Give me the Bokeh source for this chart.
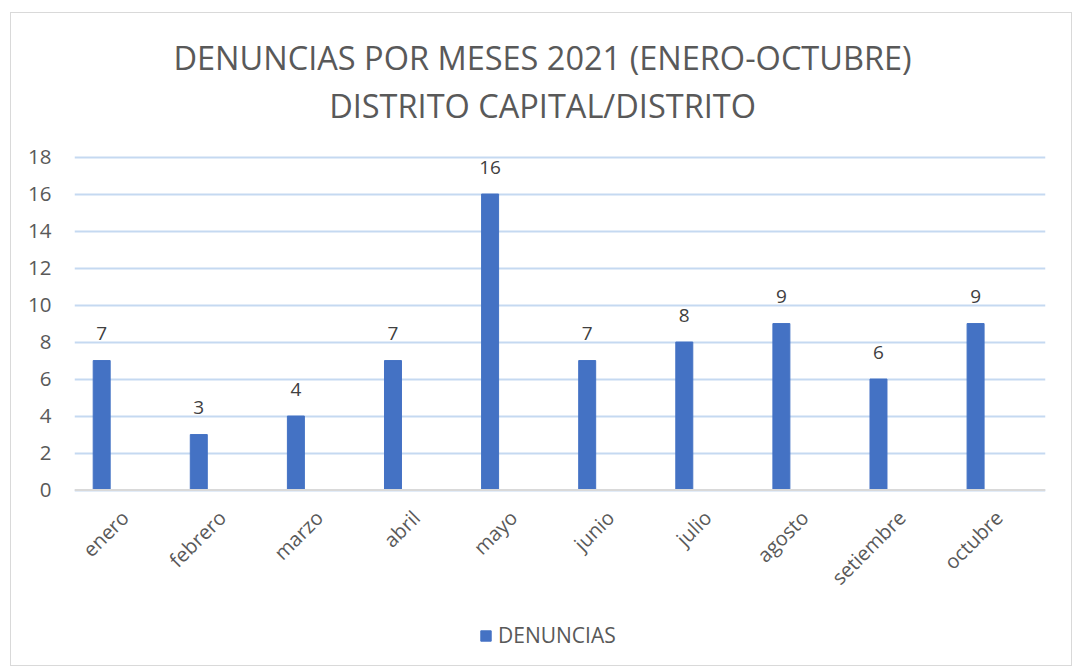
from bokeh.plotting import figure
from bokeh.models import (ColumnDataSource, FactorRange, Range1d, Legend, LegendItem,
                          FixedTicker, Span)
from bokeh.transform import dodge
from bokeh.core.properties import value
from bokeh.embed import file_html
from bokeh.resources import INLINE
from math import pi

meses = ["enero", "febrero", "marzo", "abril", "mayo", "junio", "julio",
         "agosto", "setiembre", "octubre"]
denuncias = [7, 3, 4, 7, 16, 7, 8, 9, 6, 9]
etiquetas = [str(v) for v in denuncias]
y_ticks = [0, 2, 4, 6, 8, 10, 12, 14, 16, 18]
titulo_1 = "DENUNCIAS POR MESES 2021 (ENERO-OCTUBRE)"
titulo_2 = "DISTRITO CAPITAL/DISTRITO"
serie = "DENUNCIAS"

FONT = "Open Sans"
GRAY = "#595959"

# layout (pixels)
W, H = 1062, 654
B_LEFT, B_RIGHT, B_TOP, B_BOTTOM = 63, 28, 15, 5
PX_PER_UNIT = 18.5
Y_TOP = 18.03 + (156 - 28) / PX_PER_UNIT          # frame top sits above the 18 line
Y_BOTTOM = Y_TOP - (H - B_TOP - B_BOTTOM) / PX_PER_UNIT

def y_at(page_px):
    return Y_TOP - (page_px - 28) / PX_PER_UNIT

src = ColumnDataSource(dict(mes=meses, val=denuncias, lbl=etiquetas))
tsrc = ColumnDataSource(dict(t=[titulo_1, titulo_2], x=["junio", "junio"],
                             y=[y_at(57), y_at(105)]))

p = figure(width=W, height=H, x_range=FactorRange(*meses, range_padding=0),
           y_range=Range1d(Y_BOTTOM, Y_TOP), output_backend="svg", toolbar_location=None,
           min_border_left=B_LEFT, min_border_right=B_RIGHT, min_border_top=B_TOP,
           min_border_bottom=B_BOTTOM)
p.styles = {"border": "1px solid #D9D9D9", "margin-left": "10px", "margin-top": "12px"}
p.outline_line_color = None
p.title = None

# chart title (two centred lines)
p.text(x="x", y="y", text="t", source=tsrc, text_align="center", text_baseline="alphabetic",
       x_offset=-66, text_font=value(FONT), text_font_size="32.5px", text_color=GRAY)

bars = p.vbar(x=dodge("mes", -0.22, range=p.x_range), top="val", width=0.175,
              source=src, fill_color="#4472C4", line_color="#4472C4")
p.text(x=dodge("mes", -0.22, range=p.x_range), y="val", text="lbl", source=src,
       text_align="center", text_baseline="alphabetic", y_offset=-27,
       text_font=value(FONT), text_font_size="19px", text_color="#404040")

# category labels along the zero line
p.text(x="mes", y=0, text="mes", source=src, angle=pi / 4, text_align="right",
       text_baseline="middle", x_offset=2, y_offset=24,
       text_font=value(FONT), text_font_size="20px", text_color=GRAY)
p.add_layout(Span(location=0, dimension="width", line_color="#D9D9D9", line_width=2))

p.xaxis.visible = False
p.yaxis.ticker = FixedTicker(ticks=y_ticks)
p.yaxis.axis_line_color = None
p.yaxis.major_tick_line_color = None
p.yaxis.major_tick_out = 0
p.yaxis.minor_tick_line_color = None
p.yaxis.major_label_text_font = FONT
p.yaxis.major_label_text_font_size = "20.5px"
p.yaxis.major_label_text_color = GRAY
p.yaxis.major_label_standoff = 23

p.xgrid.grid_line_color = None
p.ygrid.grid_line_color = "#C5D9F1"
p.ygrid.grid_line_width = 2

legend = Legend(items=[LegendItem(label=serie, renderers=[bars])], location=(405, 13),
                glyph_width=13, glyph_height=13, label_text_font=FONT,
                label_text_font_size="21px", label_text_color=GRAY,
                label_standoff=6, padding=0, margin=0, spacing=0, label_height=13,
                border_line_color=None, background_fill_alpha=0)
p.add_layout(legend, "center")

open("out.html", "w").write(file_html(p, INLINE))
